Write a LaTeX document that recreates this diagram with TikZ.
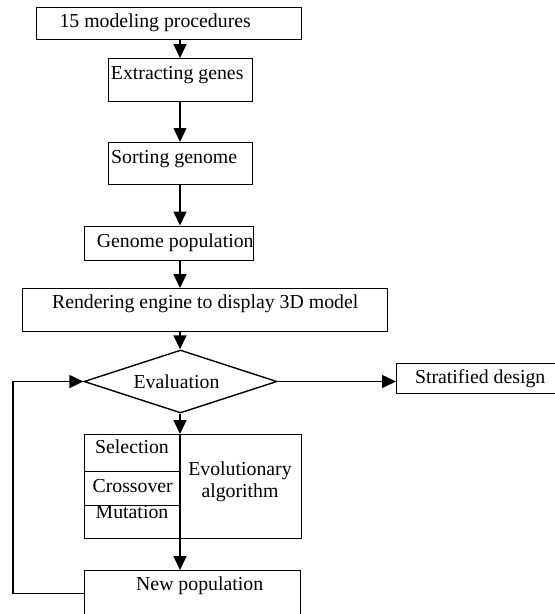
\documentclass[tikz,border=0pt]{standalone}
\usepackage{fontspec}
\setmainfont{Liberation Serif}
\usepackage{tikz}
\usetikzlibrary{positioning,arrows.meta,shapes.geometric}
% shift a box text sideways by half of #1
\newcommand{\nudge}[2]{\hspace*{#1}#2}

\begin{document}
\begin{tikzpicture}[x=1pt, y=-1pt,
        font=\fontsize{19.8}{22}\selectfont,
        box/.style={rectangle, draw=black, line width=1.4pt, inner sep=0pt, anchor=north west},
        decision/.style={diamond, draw=black, line width=1.4pt, inner sep=0pt, aspect=3.06, minimum width=193pt, minimum height=63pt},
        cell/.style={inner sep=0pt, anchor=base},
        arrow/.style={draw=black, line width=1.5pt, -{Triangle[length=14pt, width=13pt]}}
    ]
        \useasboundingbox (0,0) rectangle (555,614);
        \coordinate (spine) at (180,0);

        \node [box, minimum width=265pt, text height=20pt, text depth=12pt] (procs) at (36,7) {\nudge{-28pt}{15 modeling procedures}};
        \node [box, minimum width=144pt, text height=21pt, text depth=22pt] (extract) at (108,58) {\nudge{-7pt}{Extracting genes}};
        \node [box, minimum width=144pt, text height=21pt, text depth=21pt] (sort) at (108,142) {\nudge{-13pt}{Sorting genome}};
        \node [box, minimum width=169pt, text height=21.5pt, text depth=12.5pt] (genpop) at (84,225.5) {\nudge{12pt}{Genome population}};
        \node [box, minimum width=365pt, text height=20pt, text depth=23pt] (render) at (22,288) {Rendering engine to display 3D model};
        \node [decision] (eval) at (180.5,381.5) {\nudge{-8pt}{Evaluation}};
        \node [box, minimum width=162pt, text height=20pt, text depth=10.5pt] (strat) at (396,362.5) {\nudge{5pt}{Stratified design}};

        % evolutionary algorithm block
        \node [box, minimum width=217pt, minimum height=104pt] (evo) at (84,434) {};
        \node [cell] (sel) at (132,453) {Selection};
        \node [box, minimum width=96pt, text height=21pt, text depth=13pt] (cro) at (84,471) {Crossover};
        \node [cell] (mut) at (132,518) {Mutation};
        \node [align=center, inner sep=0pt] (evolab) at (240,482) {Evolutionary\\algorithm};

        \node [box, minimum width=216pt, text height=20pt, text depth=26pt] (newpop) at (84,570) {\nudge{14pt}{New population}};

        \draw [arrow] (procs.south -| spine) -- (extract.north -| spine);
        \draw [arrow] (extract.south -| spine) -- (sort.north -| spine);
        \draw [arrow] (sort.south -| spine) -- (genpop.north -| spine);
        \draw [arrow] (genpop.south -| spine) -- (render.north -| spine);
        \draw [arrow] (render.south -| spine) -- (eval.north -| spine);
        \draw [arrow] (eval.east) -- (eval.east -| strat.west);
        \draw [arrow] (eval.south -| spine) -- (evo.north -| spine);
        \draw [arrow] (evo.north -| spine) -- (newpop.north -| spine);
        \draw [arrow] (newpop.west) -- ++(-71,0) |- (eval.west);
    \end{tikzpicture}
\end{document}
